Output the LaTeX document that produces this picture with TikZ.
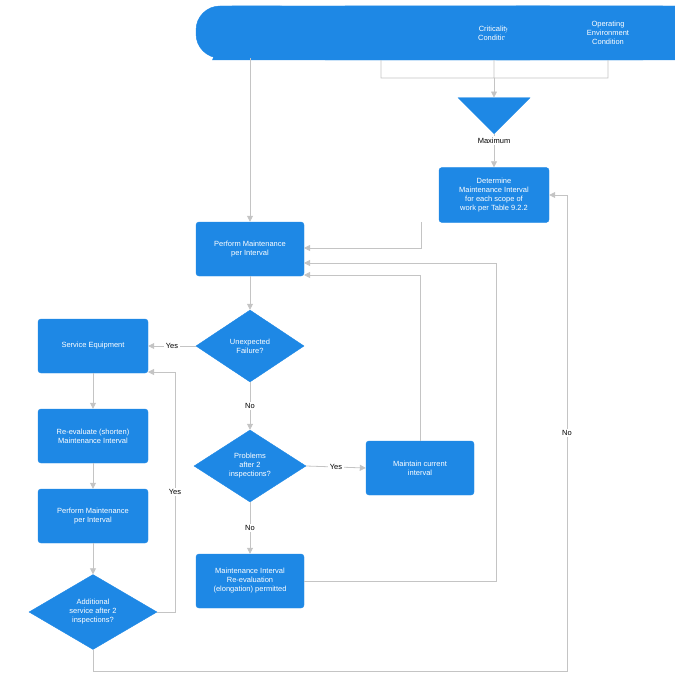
\documentclass[tikz,border=0pt]{standalone}
\usepackage{fontspec}
\setmainfont{Liberation Sans}
\usetikzlibrary{shapes.geometric,arrows.meta}
\definecolor{bl}{HTML}{1E88E5}
\definecolor{ln}{HTML}{C4C4C4}
\begin{document}
\begin{tikzpicture}[x=1pt,y=-1pt,
 box/.style={fill=bl,draw=bl,rounded corners=3pt,minimum width=108pt,minimum height=54pt,text=white,align=center,font=\fontsize{7.5}{9}\selectfont,inner sep=1pt},
 dia/.style={diamond,fill=bl,draw=bl,text=white,align=center,font=\fontsize{7.5}{9}\selectfont,aspect=1.5,inner sep=0pt},
 par/.style={trapezium,trapezium left angle=70,trapezium right angle=110,fill=bl,draw=bl,text=white,align=center,font=\fontsize{7.5}{9}\selectfont,minimum height=54pt,text width=80pt,inner sep=0pt},
 ar/.style={draw=ln,line width=0.8pt,-{Triangle[length=6pt,width=6pt]}},
 lab/.style={fill=white,font=\fontsize{7.5}{9}\selectfont,inner sep=1.5pt}]
\useasboundingbox (0,0) rectangle (674,687);
\node[box,rounded corners=24pt,minimum height=52pt] (eq) at (250,32) {Equipment};
\node[par,minimum width=106pt] (p1) at (381,33) {Physical\\Condition};
\node[par,minimum width=106pt] (p2) at (494,33) {Criticality\\Condition};
\node[par,minimum width=106pt] (p3) at (608,33) {Operating\\Environment\\Condition};
\node[isosceles triangle,shape border rotate=-90,isosceles triangle apex angle=90,fill=bl,draw=bl,minimum width=72pt,inner sep=0pt,anchor=apex] (tri) at (494,134) {};
\node[box,minimum width=110pt,minimum height=55pt] (det) at (494,195) {Determine\\Maintenance Interval\\for each scope of\\work per Table 9.2.2};
\node[box] (pm) at (250,249) {Perform Maintenance\\per Interval};
\node[dia,minimum width=108pt,minimum height=72pt] (uf) at (250,346) {Unexpected\\Failure?};
\node[box,minimum width=110pt] (se) at (93,346) {Service Equipment};
\node[dia,minimum width=112pt,minimum height=72pt] (pr) at (250,466) {Problems\\after 2\\inspections?};
\node[box] (mc) at (420,468) {Maintain current\\interval};
\node[box] (mr) at (250,581) {Maintenance Interval\\Re-evaluation\\(elongation) permitted};
\node[box,minimum width=110pt] (rs) at (93,436) {Re-evaluate (shorten)\\Maintenance Interval};
\node[box,minimum width=110pt] (pm2) at (93,516) {Perform Maintenance\\per Interval};
\node[dia,minimum width=128pt,minimum height=75pt] (ad) at (93,612) {Additional\\service after 2\\inspections?};
\coordinate (j) at (494,78);
\draw[draw=ln,line width=0.8pt] (p1.south) |- (j) (p3.south) |- (j) (p2.south) -- (j);
\draw[ar] (j) -- (tri.north);
\draw[ar] (tri.apex) -- node[lab,pos=0.2]{Maximum} (det.north);
\draw[ar] (eq) -- (pm);
\draw[ar] (421,222) |- (304,248);
\draw[ar] (mr.east) -| (496,263) -- (304,263);
\draw[ar] (mc.north) |- (304,275);
\draw[ar] (pm) -- (uf);
\draw[ar] (uf.west) -- node[lab]{Yes} (se.east);
\draw[ar] (uf.south) -- node[lab]{No} (pr.north);
\draw[ar] (pr.east) -- node[lab]{Yes} (mc.west);
\draw[ar] (pr.south) -- node[lab]{No} (mr.north);
\draw[ar] (se) -- (rs);
\draw[ar] (rs) -- (pm2);
\draw[ar] (pm2) -- (ad);
\draw[ar] (ad.east) -| node[lab,pos=0.75]{Yes} (175,372) -- (148,372);
\draw[ar] (ad.south) |- (567,671) -- node[lab]{No} (567,195) -- (det.east);
\end{tikzpicture}
\end{document}
